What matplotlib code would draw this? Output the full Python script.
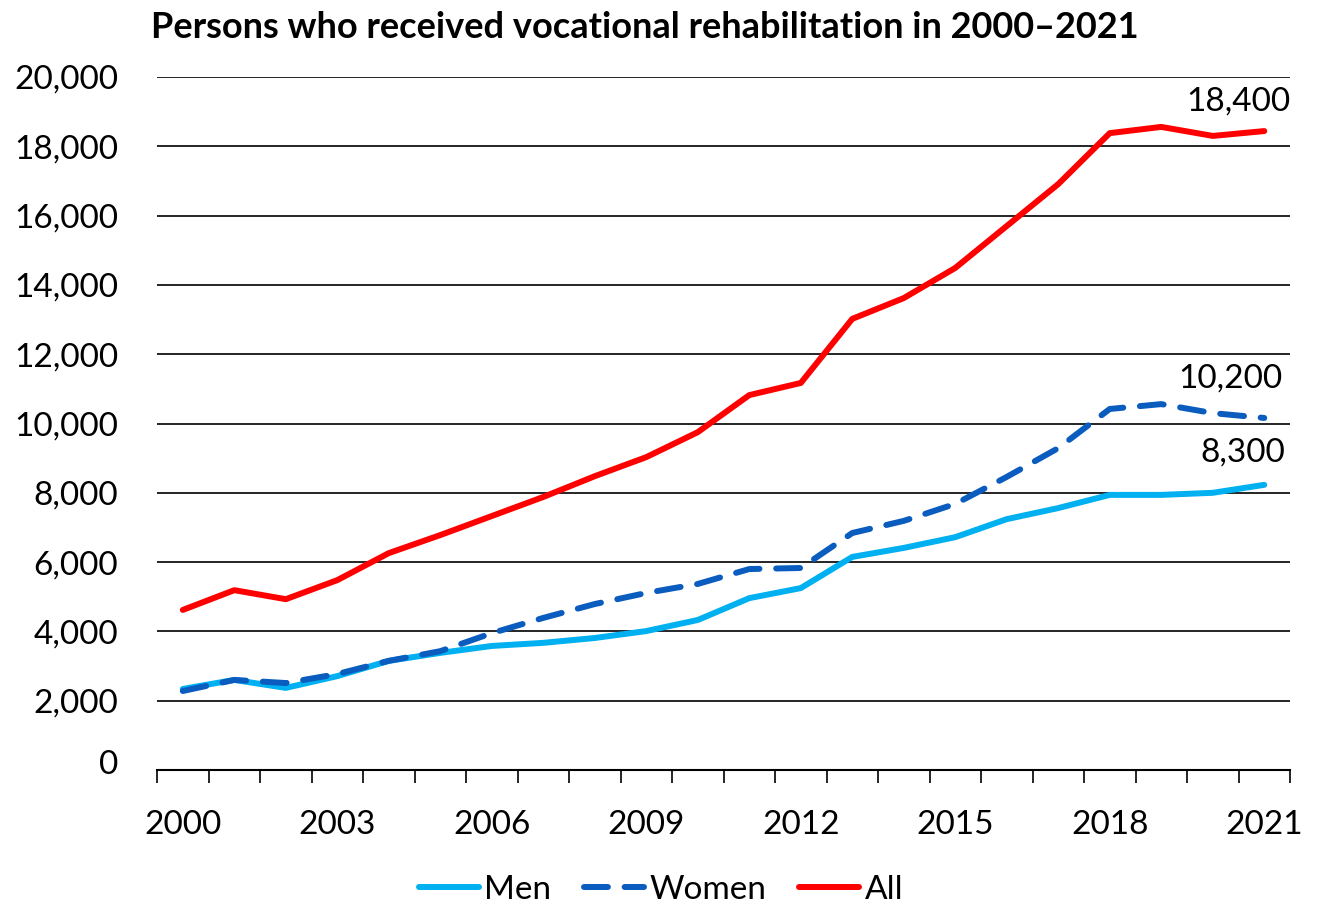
import matplotlib.pyplot as plt
from matplotlib.ticker import FuncFormatter
from matplotlib.transforms import ScaledTranslation

plt.rcParams['font.family'] = ['Lato', 'DejaVu Sans']

years = list(range(2000, 2022))
men = [2340, 2600, 2370, 2710, 3150, 3380, 3580, 3670, 3810, 4010, 4330,
       4960, 5250, 6150, 6410, 6720, 7240, 7560, 7940, 7940, 8000, 8230]
women = [2280, 2600, 2510, 2770, 3150, 3430, 3950, 4390, 4790, 5110, 5370,
         5800, 5830, 6840, 7190, 7680, 8460, 9290, 10420, 10560, 10300, 10160]
all_ = [4620, 5190, 4930, 5480, 6260, 6780, 7330, 7880, 8480, 9030, 9750,
        10820, 11170, 13020, 13620, 14490, 15700, 16910, 18380, 18560, 18300, 18440]
end_labels = ['8,300', '10,200', '18,400']
title = 'Persons who received vocational rehabilitation in 2000\u20132021'

fig = plt.figure(figsize=(13.22, 9.06), dpi=100)
ax = fig.add_axes([0.1188, 0.1501, 0.8570, 0.7649])

x = list(range(len(years)))
ax.plot(x, men, color='#00B0F0', lw=4.3, solid_capstyle='round', label='Men', zorder=3)
ax.plot(x, women, color='#0A5CBF', lw=4.3, dashes=(4, 2.8), dash_capstyle='round',
        label='Women', zorder=3)
ax.plot(x, all_, color='#FF0000', lw=4.3, solid_capstyle='round', label='All', zorder=3)

# end-of-line value labels
ax.text(21.5, all_[-1] + 840, end_labels[2], ha='right', va='center', fontsize=24)
ax.text(21.36, women[-1] + 1150, end_labels[1], ha='right', va='center', fontsize=24)
ax.text(21.4, men[-1] + 920, end_labels[0], ha='right', va='center', fontsize=24)

ax.set_xlim(-0.5, len(years) - 0.5)
ax.set_ylim(0, 20000)
ax.set_yticks(range(0, 20001, 2000))
ax.yaxis.set_major_formatter(FuncFormatter(lambda v, p: f'{int(v):,}'))
ax.tick_params(axis='y', length=0, labelsize=24, pad=28)
ax.grid(axis='y', color='black', lw=1.2)
ax.set_axisbelow(True)
# the zero label sits a little above the axis line
zero_lab = ax.get_yticklabels()[0]
zero_lab.set_transform(zero_lab.get_transform() + ScaledTranslation(0, 8 / 100, fig.dpi_scale_trans))

ax.set_xticks([i - 0.5 for i in range(len(years) + 1)])
ax.set_xticklabels([])
ax.set_xticks(x[::3], minor=True)
ax.set_xticklabels([str(years[i]) for i in x[::3]], minor=True)
ax.tick_params(axis='x', which='major', length=9, width=1.2, direction='out')
ax.tick_params(axis='x', which='minor', length=0, labelsize=24, pad=29)

for s in ['top', 'right', 'left']:
    ax.spines[s].set_visible(False)
ax.spines['bottom'].set_linewidth(1.5)

fig.text(0.114, 0.97, title, ha='left', va='center', fontsize=26, fontweight='bold')
fig.legend(loc='center', bbox_to_anchor=(0.5, 0.018), ncol=3, frameon=False,
           fontsize=24, handlelength=1.8, handletextpad=0.15, columnspacing=1.0)

fig.savefig('out.png', dpi=100)
